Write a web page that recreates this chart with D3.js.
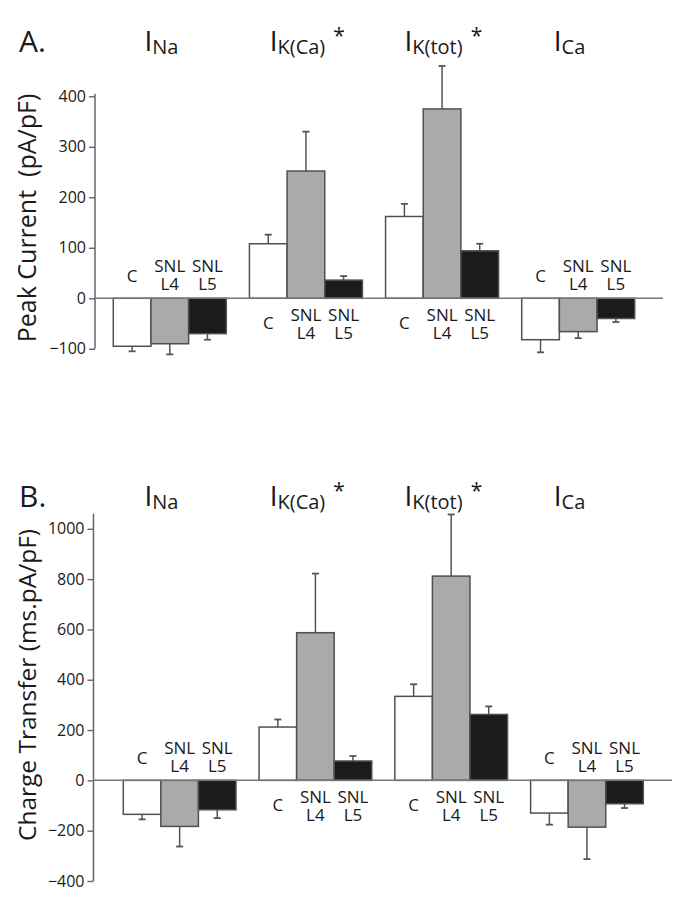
<!DOCTYPE html>
<html><head><meta charset="utf-8">
<script src="https://cdn.jsdelivr.net/npm/d3@7"></script>
<style>
body{margin:0;background:#fff}
svg{display:block}
text{font-family:"Open Sans","Noto Sans",sans-serif;fill:#1a1a1a}
</style>
</head><body>
<svg id="chart" width="682" height="898"></svg>
<script>
// ---- data ----
const currents = ["Na", "K(Ca)", "K(tot)", "Ca"];
const starred = [false, true, true, false];
const conditions = ["C", "SNL L4", "SNL L5"];

// Panel A: peak current (pA/pF)
const peakC   = [-95, 108, 162, -82];
const peakL4  = [-90, 252, 375, -66];
const peakL5  = [-70, 36, 94, -40];
const peakErrC  = [10, 18, 25, 25];
const peakErrL4 = [21, 78, 85, 13];
const peakErrL5 = [12, 8, 14, 7];
const peakTicks = [-100, 0, 100, 200, 300, 400];

// Panel B: charge transfer (ms.pA/pF)
const chargeC   = [-135, 212, 334, -130];
const chargeL4  = [-183, 587, 812, -186];
const chargeL5  = [-117, 77, 262, -93];
const chargeErrC  = [20, 30, 48, 46];
const chargeErrL4 = [80, 235, 245, 127];
const chargeErrL5 = [33, 20, 32, 17];
const chargeTicks = [-400, -200, 0, 200, 400, 600, 800, 1000];

// ---- drawing ----
const svg = d3.select("#chart");
const fills = ["#ffffff", "#aaaaaa", "#1b1b1b"];
const strokeCol = "#505050";

function panel(opts) {
  const g = svg.append("g");
  const y = d3.scaleLinear().domain(opts.domain).range(opts.yRange);
  const x = d3.scaleBand().domain(currents).range(opts.xRange).paddingInner(0.17).paddingOuter(0);
  const xs = d3.scaleBand().domain(conditions).range([0, x.bandwidth()]).padding(0);
  const tx = d3.scaleBand().domain(currents).range(opts.titleRange).paddingInner(0.17).paddingOuter(0);

  // axis
  const ax = g.append("g").attr("transform", `translate(${opts.axisX},0)`)
    .call(d3.axisLeft(y).tickValues(opts.ticks).tickSize(6).tickSizeOuter(0).tickPadding(3).tickFormat(d3.format("d")));
  ax.select(".domain").remove();
  ax.selectAll(".tick line").attr("stroke", "#666").attr("stroke-width", 1.4);
  ax.selectAll(".tick text").style("font-size", "16px").attr("fill", "#1a1a1a").style("font-family", '"Open Sans",sans-serif');
  g.append("line").attr("x1", opts.axisX).attr("x2", opts.axisX)
    .attr("y1", y(opts.axisTop)).attr("y2", y(opts.domain[0]))
    .attr("stroke", "#666").attr("stroke-width", 1.5);

  // bars
  const rows = [];
  currents.forEach((c, i) => {
    conditions.forEach((k, j) => {
      rows.push({cur: c, cond: k, j, v: opts.series[j][i], e: opts.errs[j][i]});
    });
  });
  const bg = g.selectAll(".bar").data(rows).enter().append("g")
    .attr("transform", d => `translate(${x(d.cur) + xs(d.cond)},0)`);
  // error bars
  bg.each(function(d) {
    const s = d3.select(this);
    const cx = xs.bandwidth() / 2;
    const end = d.v >= 0 ? d.v + d.e : d.v - d.e;
    s.append("line").attr("x1", cx).attr("x2", cx).attr("y1", y(d.v)).attr("y2", y(end))
      .attr("stroke", "#555").attr("stroke-width", 1.5);
    s.append("line").attr("x1", cx - 3.5).attr("x2", cx + 3.5).attr("y1", y(end)).attr("y2", y(end))
      .attr("stroke", "#555").attr("stroke-width", 1.8);
  });
  bg.append("rect")
    .attr("x", 0).attr("width", xs.bandwidth())
    .attr("y", d => y(Math.max(0, d.v)))
    .attr("height", d => Math.abs(y(d.v) - y(0)))
    .attr("fill", d => fills[d.j]).attr("stroke", strokeCol).attr("stroke-width", 1.5);

  // condition labels on the opposite side of zero
  bg.each(function(d) {
    const s = d3.select(this);
    const cx = xs.bandwidth() / 2;
    const y0 = y(0);
    const pos = d.v >= 0;
    const parts = d.cond.split(" ");
    const t = s.append("text").attr("text-anchor", "middle").style("font-size", "17px");
    if (parts.length === 1) {
      t.attr("x", cx).attr("y", y0 + (pos ? 31 : -16)).text(parts[0]);
    } else {
      t.attr("x", cx).attr("y", y0 + (pos ? 23 : -26));
      t.append("tspan").attr("x", cx).text(parts[0]);
      t.append("tspan").attr("x", cx).attr("dy", 17.5).text(parts[1]);
    }
  });

  // zero line
  g.append("line").attr("x1", opts.axisX).attr("x2", opts.zeroEnd)
    .attr("y1", y(0)).attr("y2", y(0)).attr("stroke", "#777").attr("stroke-width", 1.5);

  // titles
  currents.forEach((c, i) => {
    const t = g.append("text").attr("x", tx(c) + tx.bandwidth() / 2).attr("y", opts.titleY)
      .attr("text-anchor", "middle").style("font-size", "28px");
    t.append("tspan").text("I");
    t.append("tspan").attr("dy", 3).style("font-size", "20px").text(c);
    if (starred[i]) {
      const bb = t.node().getBBox();
      g.append("text").attr("x", bb.x + bb.width + 8).attr("y", opts.titleY - 8)
        .style("font-size", "21px").text("*");
    }
  });

  // panel letter
  g.append("text").attr("x", 19).attr("y", opts.titleY + 1).style("font-size", "30px").text(opts.letter);

  // y title
  g.append("text").attr("transform", `translate(${opts.ytX},${opts.ytY}) rotate(-90)`)
    .attr("text-anchor", "middle").style("font-size", opts.ytSize).style("white-space", "pre").text(opts.yTitle);
}

panel({
  letter: "A.", domain: [-100, 400], yRange: [348.8, 96.3], axisTop: 405, axisX: 95,
  xRange: [113.3, 634.7], zeroEnd: 663, titleRange: [105, 626], titleY: 51,
  ticks: peakTicks, series: [peakC, peakL4, peakL5], errs: [peakErrC, peakErrL4, peakErrL5],
  yTitle: "Peak Current  (pA/pF)", ytX: 36, ytY: 218, ytSize: "25px"
});
panel({
  letter: "B.", domain: [-400, 1000], yRange: [881, 528.8], axisTop: 1060, axisX: 93.5,
  xRange: [123.3, 643.3], zeroEnd: 672, titleRange: [105, 626], titleY: 506,
  ticks: chargeTicks, series: [chargeC, chargeL4, chargeL5], errs: [chargeErrC, chargeErrL4, chargeErrL5],
  yTitle: "Charge Transfer (ms.pA/pF)", ytX: 36, ytY: 685, ytSize: "24.5px"
});
</script>
</body></html>
